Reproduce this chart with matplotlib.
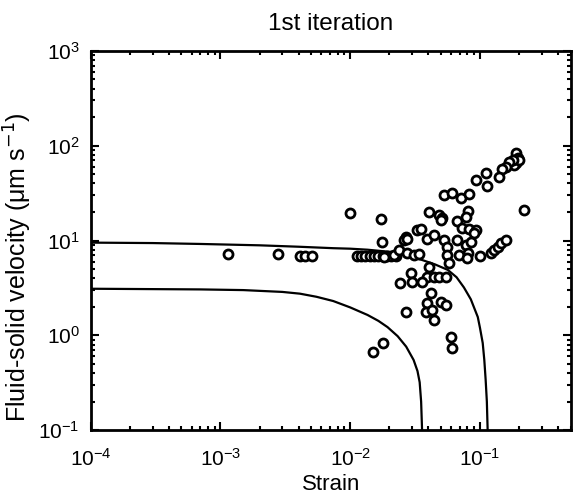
import numpy as np
import matplotlib.pyplot as plt
from matplotlib.ticker import LogLocator, NullFormatter

# measured points (strain, fluid-solid velocity in um/s)
strain = [
    1.14e-3, 2.78e-3, 4.07e-3, 4.52e-3, 5.09e-3,
    0.01005, 0.01714, 0.01766, 0.01505, 0.01798,
    0.0113, 0.0122, 0.0131, 0.0142, 0.0153, 0.0165, 0.0178, 0.0192, 0.0207, 0.0224,
    0.189, 0.195, 0.189, 0.183, 0.200, 0.179,
    0.168, 0.158, 0.1466, 0.140, 0.112, 0.0929, 0.114,
    0.0529, 0.0614, 0.0711, 0.0824, 0.219,
    0.0405, 0.0483, 0.0507, 0.0498,
    0.0809, 0.0776, 0.0670, 0.0733, 0.0824, 0.0929, 0.0899,
    0.0325, 0.0353, 0.0394, 0.0443,
    0.0267, 0.0259, 0.0275,
    0.0529, 0.0561, 0.0670, 0.0561, 0.0577, 0.0690, 0.0776, 0.0809, 0.0849, 0.080,
    0.0995, 0.121, 0.1285, 0.1365, 0.145, 0.158,
    0.01815, 0.0217, 0.0237, 0.0275, 0.031, 0.0339,
    0.0405, 0.0394, 0.0443, 0.0483, 0.0545, 0.0292, 0.0301, 0.0244, 0.036,
    0.0417, 0.0394, 0.0381, 0.043, 0.0443, 0.0498, 0.0545, 0.0267,
    0.0596, 0.0614,
]
velocity = [
    7.15, 7.15, 6.86, 6.86, 6.86,
    19.6, 16.9, 9.7, 0.67, 0.82,
    6.9, 6.9, 6.9, 6.9, 6.9, 6.9, 6.9, 6.9, 6.9, 6.9,
    83.2, 73.7, 65.3, 62.6, 70.8, 70.8,
    67.9, 60.1, 56.4, 47.1, 51.2, 43.5, 37.6,
    30.2, 31.5, 28.3, 30.7, 21.0,
    20.1, 18.6, 17.1, 16.4,
    20.6, 17.6, 16.2, 13.5, 13.1, 12.9, 11.9,
    12.9, 13.1, 10.5, 11.4,
    11.0, 10.1, 10.5,
    10.1, 8.6, 10.1, 7.03, 5.83, 7.03, 8.96, 7.32, 9.7, 6.49,
    6.86, 7.32, 7.94, 8.6, 9.33, 10.1,
    6.75, 7.03, 7.94, 7.32, 7.03, 7.2,
    5.29, 4.15, 4.15, 4.15, 4.15, 4.51, 3.67, 3.53, 3.67,
    2.77, 2.17, 1.77, 1.85, 1.45, 2.26, 2.08, 1.77,
    0.966, 0.728,
]

# model curves
upper_x = [1e-4, 3e-4, 7e-4, 2e-3, 4e-3, 7.4e-3, 0.01, 0.0136, 0.02, 0.027, 0.035,
           0.045, 0.0565, 0.066, 0.0752, 0.085, 0.0962, 0.1, 0.105, 0.108, 0.1106,
           0.113, 0.1146]
upper_y = [9.5, 9.4, 9.2, 8.9, 8.6, 8.3, 8.2, 8.0, 7.6, 7.0, 6.3,
           5.6, 4.9, 4.1, 3.2, 2.4, 1.56, 1.2, 0.83, 0.55, 0.34,
           0.2, 0.1]
lower_x = [1e-4, 7e-4, 1.5e-3, 3e-3, 4.1e-3, 5.5e-3, 7.4e-3, 0.01, 0.0136, 0.0165,
           0.0194, 0.0232, 0.027, 0.0308, 0.033, 0.0343, 0.0352, 0.0358]
lower_y = [3.1, 3.05, 3.0, 2.87, 2.75, 2.55, 2.3, 1.97, 1.64, 1.42,
           1.22, 0.98, 0.76, 0.55, 0.42, 0.32, 0.2, 0.1]

plt.rcParams['font.family'] = ['Liberation Sans', 'DejaVu Sans']

fig = plt.figure(figsize=(5.85, 4.99), dpi=100)
ax = fig.add_axes([0.155, 0.138, 0.8205, 0.760])

ax.plot(upper_x, upper_y, color='black', lw=1.6)
ax.plot(lower_x, lower_y, color='black', lw=1.6)
ax.plot(strain, velocity, 'o', mfc='white', mec='black', ms=6.5, mew=2, ls='none')

ax.set_xscale('log')
ax.set_yscale('log')
ax.set_xlim(1e-4, 0.5)
ax.set_ylim(0.1, 1000)

ax.xaxis.set_major_locator(LogLocator(base=10, numticks=10))
ax.yaxis.set_major_locator(LogLocator(base=10, numticks=10))
ax.xaxis.set_minor_locator(LogLocator(base=10, subs=np.arange(2, 10), numticks=20))
ax.yaxis.set_minor_locator(LogLocator(base=10, subs=np.arange(2, 10), numticks=20))
ax.xaxis.set_minor_formatter(NullFormatter())
ax.yaxis.set_minor_formatter(NullFormatter())

ax.tick_params(which='both', direction='in', top=True, right=True, labelsize=15, width=1.5)
ax.tick_params(which='major', length=6, pad=8)
ax.tick_params(axis='x', which='major', pad=13)
ax.tick_params(which='minor', length=3)
for s in ax.spines.values():
    s.set_linewidth(2)

ax.set_xlabel('Strain', fontsize=16, labelpad=3)
ax.set_ylabel('Fluid-solid velocity (\u03bcm s$^{-1}$)', fontsize=18)
ax.yaxis.set_label_coords(-0.118, 0.43)
ax.set_title('1st iteration', fontsize=17.5, pad=15)

fig.savefig('out.png', dpi=100)
